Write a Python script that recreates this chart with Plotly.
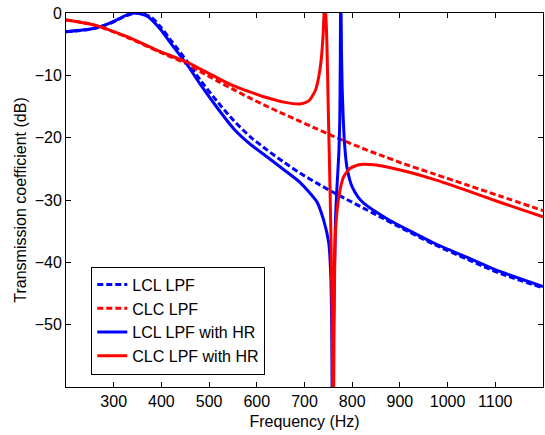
import plotly.graph_objects as go

# LCL LPF (dashed blue)
lcl_f = [200, 230, 258, 293, 328, 350, 377, 398, 419, 454, 482, 517, 552, 587, 622, 656, 691, 726, 761, 796, 831, 866, 901, 971, 1041, 1111, 1200]
lcl_db = [-3.0, -2.8, -2.5, -1.65, -0.4, 0.0, -0.6, -2.2, -4.3, -7.8, -10.8, -14.2, -17.3, -19.9, -22.0, -23.9, -25.7, -27.3, -28.8, -30.2, -31.6, -33.0, -34.4, -37.1, -39.5, -41.8, -44.1]

# CLC LPF (dashed red)
clc_f = [200, 258, 328, 398, 454, 482, 517, 552, 587, 622, 656, 691, 726, 761, 796, 831, 866, 901, 971, 1041, 1111, 1200]
clc_db = [-1.1, -1.9, -3.9, -6.3, -8.2, -9.4, -10.9, -12.3, -13.7, -15.0, -16.2, -17.4, -18.6, -19.8, -20.9, -22.0, -23.0, -24.0, -25.8, -27.6, -29.4, -31.7]

# LCL LPF with HR (solid blue)
lclhr_f = [200, 258, 293, 328, 345, 370, 398, 419, 454, 482, 517, 552, 587, 622, 656, 691, 726, 740, 751, 755, 757, 759, 761, 765, 768, 772, 774, 775, 776, 777.5, 779, 781, 784, 789, 795, 800, 812, 824, 873, 922, 971, 1041, 1111, 1200]
lclhr_db = [-3.0, -2.5, -1.6, -0.3, 0.0, -0.5, -2.6, -4.8, -8.3, -11.5, -15.2, -18.6, -21.1, -23.1, -25.1, -27.2, -30.3, -33.2, -37.0, -42.0, -50.0, -75.0, -50.0, -33.0, -28.0, -22.5, -17.0, -8.0, 5.0, -6.0, -12.0, -16.5, -21.0, -24.8, -26.8, -27.9, -29.5, -30.5, -33.0, -35.0, -36.9, -39.2, -41.5, -43.9]

# CLC LPF with HR (solid red)
clchr_f = [200, 258, 328, 398, 454, 482, 517, 552, 587, 622, 656, 691, 709, 723, 730, 735, 739, 743, 747, 750, 754, 758, 760, 762, 765, 772, 782, 796, 817, 838, 873, 922, 971, 1041, 1111, 1200]
clchr_db = [-1.1, -1.9, -3.8, -6.2, -7.9, -9.0, -10.4, -11.7, -12.7, -13.6, -14.3, -14.6, -14.1, -12.4, -10.2, -7.5, -3.5, 3.0, -5.0, -16.0, -30.0, -48.0, -75.0, -50.0, -35.0, -29.5, -26.3, -24.9, -24.3, -24.3, -24.7, -25.6, -26.7, -28.5, -30.4, -32.7]

x_ticks = [300, 400, 500, 600, 700, 800, 900, 1000, 1100]
y_ticks = [0, -10, -20, -30, -40, -50]

FONT = "Liberation Sans, Arial, sans-serif"
W = 3

fig = go.Figure()
fig.add_trace(go.Scatter(x=lcl_f, y=lcl_db, mode="lines", name="LCL LPF",
                         line=dict(color="#0000ff", width=W, dash="6px,3px", shape="spline", smoothing=0.8)))
fig.add_trace(go.Scatter(x=clc_f, y=clc_db, mode="lines", name="CLC LPF",
                         line=dict(color="#ff0000", width=W, dash="6px,3px", shape="spline", smoothing=0.8)))
fig.add_trace(go.Scatter(x=lclhr_f, y=lclhr_db, mode="lines", name="LCL LPF with HR",
                         line=dict(color="#0000ff", width=W, shape="spline", smoothing=0.6)))
fig.add_trace(go.Scatter(x=clchr_f, y=clchr_db, mode="lines", name="CLC LPF with HR",
                         line=dict(color="#ff0000", width=W, shape="spline", smoothing=0.6)))

axis_common = dict(showgrid=False, zeroline=False, showline=True, linecolor="black",
                   linewidth=1, mirror="ticks", ticks="inside", ticklen=5,
                   tickcolor="black", automargin=False,
                   tickfont=dict(family=FONT, size=16, color="black"))

fig.update_xaxes(range=[200, 1200], tickvals=x_ticks,
                 title=dict(text="Frequency (Hz)", font=dict(family=FONT, size=16, color="black"), standoff=6),
                 **axis_common)
fig.update_yaxes(range=[-60, 0], tickvals=y_ticks,
                 title=dict(text="Transmission coefficient (dB)", font=dict(family=FONT, size=16, color="black"), standoff=4),
                 **axis_common)

fig.update_layout(
    width=545, height=435,
    margin=dict(l=66, r=2, t=13, b=48),
    plot_bgcolor="white", paper_bgcolor="white",
    showlegend=True,
    legend=dict(x=0.053, y=0.322, xanchor="left", yanchor="top",
                bgcolor="white", bordercolor="black", borderwidth=1,
                font=dict(family=FONT, size=16, color="black"),
                tracegroupgap=0, itemwidth=30),
)

fig.write_html("out.html", config={"displayModeBar": False},
               post_script="document.body.style.margin='0';document.body.style.overflow='hidden';")
